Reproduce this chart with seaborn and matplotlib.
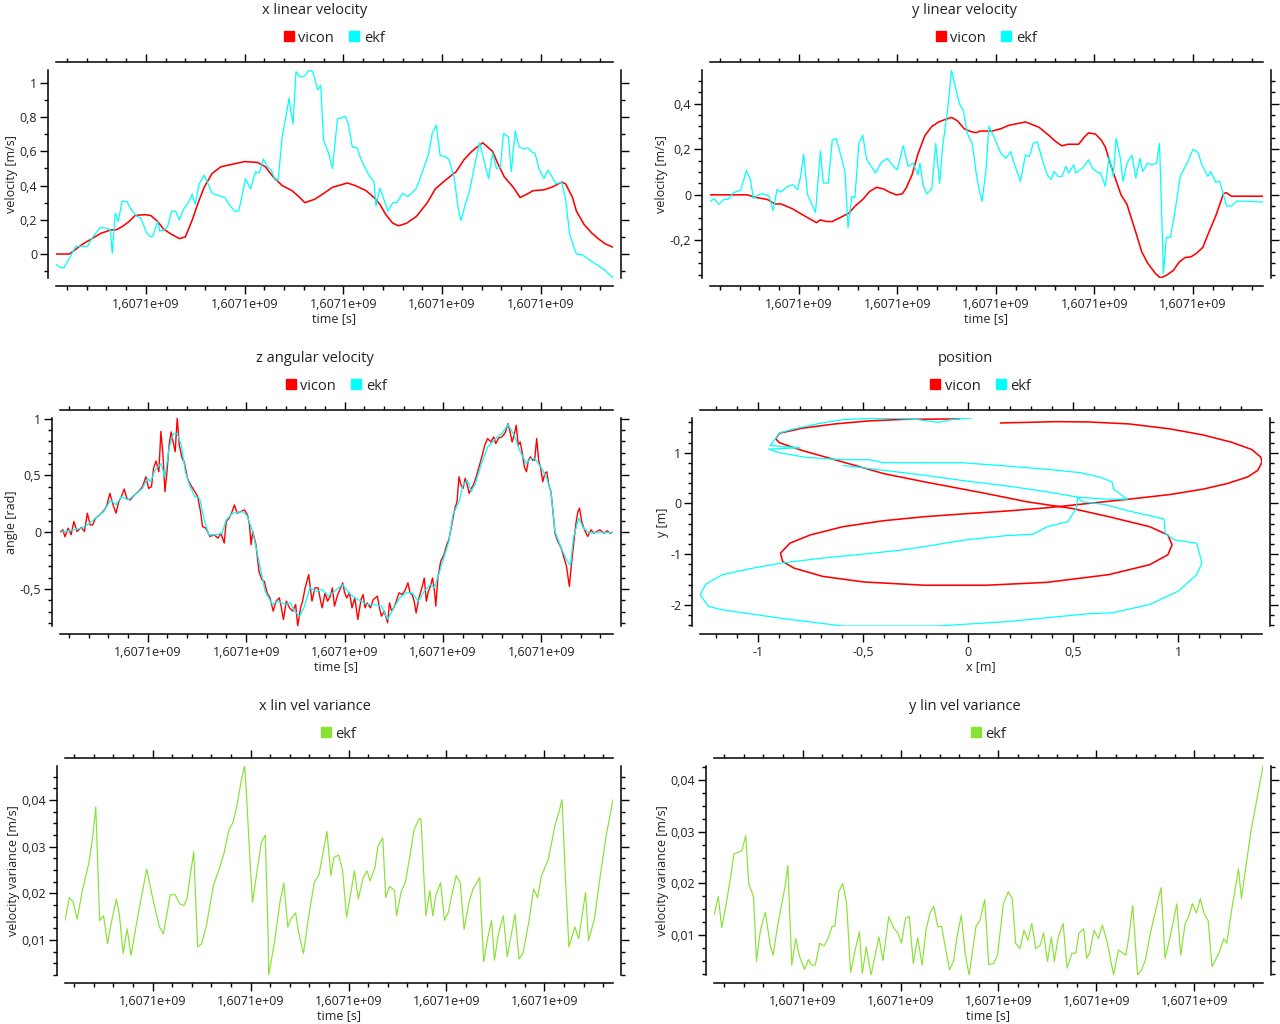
import numpy as np
import pandas as pd
import matplotlib
matplotlib.use("Agg")
import matplotlib.pyplot as plt
import seaborn as sns
from matplotlib.lines import Line2D
from matplotlib.ticker import MultipleLocator, FuncFormatter

T0 = 1607100000.0  # epoch start of the recording

RED = "#ff0000"
CYAN = "#00ffff"
GREEN = "#88e234"

# ---- x linear velocity (time offset [s], value [m/s]) ----
xvel_vicon_t = [0.9, 2.26, 3.5, 5.4, 6.4, 7.0, 7.6, 8.3, 8.9, 9.9, 10.5, 11.2, 11.8, 12.6, 13.4, 14.0, 14.7,
                15.3, 15.9, 16.7, 17.6, 18.8, 20.0, 21.3, 22.1, 22.9, 23.8, 24.8, 25.4, 26.1, 27.1, 27.9,
                28.9, 30.4, 31.2, 32.3, 33.1, 33.7, 34.3, 35.0, 35.6, 36.4, 37.4, 38.5, 39.3, 40.3, 41.4,
                42.2, 43.0, 44.1, 45.1, 45.7, 46.3, 47.2, 47.9, 48.6, 49.2, 50.3, 51.1, 52.1, 52.5, 53.2,
                53.6, 54.4, 55.2, 55.8, 56.5, 57.3]
xvel_vicon_v = [0.0, 0.0, 0.054, 0.12, 0.14, 0.142, 0.16, 0.19, 0.225, 0.23, 0.225, 0.19, 0.145, 0.115,
                0.09, 0.1, 0.2, 0.3, 0.39, 0.47, 0.51, 0.525, 0.54, 0.535, 0.51, 0.45, 0.4, 0.37, 0.34,
                0.3, 0.32, 0.35, 0.39, 0.415, 0.4, 0.37, 0.33, 0.29, 0.23, 0.18, 0.165, 0.18, 0.22, 0.3,
                0.38, 0.43, 0.48, 0.55, 0.6, 0.65, 0.6, 0.52, 0.45, 0.39, 0.33, 0.35, 0.37, 0.375, 0.39,
                0.42, 0.41, 0.33, 0.25, 0.17, 0.12, 0.09, 0.06, 0.04]
xvel_ekf_t = [0.9, 1.4, 1.7, 2.3, 2.9, 3.5, 4.1, 4.5, 5.4, 6.0, 6.4, 6.6, 6.9, 7.2, 7.6, 8.1, 8.5, 9.1,
              9.5, 10.1, 10.5, 10.7, 11.2, 11.4, 11.8, 12.2, 12.6, 13.0, 13.4, 13.8, 14.3, 14.7, 15.0,
              15.4, 15.9, 16.3, 16.7, 17.4, 18.0, 18.4, 19.0, 19.4, 20.1, 20.6, 21.1, 21.5, 21.9, 22.3,
              22.7, 23.1, 23.4, 23.8, 24.2, 24.5, 24.7, 24.9, 25.2, 25.6, 26.1, 26.5, 26.9, 27.4, 27.7,
              28.0, 28.5, 28.9, 29.4, 29.8, 30.2, 30.5, 30.9, 31.4, 31.8, 32.5, 33.1, 33.3, 33.7, 34.1,
              34.5, 35.0, 35.4, 36.0, 36.5, 37.0, 37.4, 38.0, 38.6, 39.0, 39.4, 39.8, 40.3, 40.7, 41.2,
              41.6, 41.9, 42.4, 42.8, 43.4, 43.8, 44.3, 44.7, 45.1, 45.5, 45.9, 46.2, 46.7, 47.0, 47.4,
              47.8, 48.2, 48.7, 49.1, 49.4, 49.8, 50.3, 50.7, 51.1, 51.5, 52.1, 52.5, 52.9, 53.3, 53.6,
              54.2, 54.8, 55.6, 56.5, 57.3]
xvel_ekf_v = [-0.06, -0.08, -0.08, -0.02, 0.045, 0.045, 0.045, 0.09, 0.155, 0.15, 0.14, 0.005, 0.24,
              0.19, 0.31, 0.305, 0.26, 0.22, 0.21, 0.12, 0.1, 0.105, 0.19, 0.135, 0.14, 0.16, 0.25, 0.25,
              0.2, 0.26, 0.3, 0.35, 0.29, 0.41, 0.46, 0.41, 0.355, 0.34, 0.33, 0.29, 0.25, 0.25, 0.44,
              0.38, 0.48, 0.475, 0.555, 0.51, 0.49, 0.43, 0.435, 0.685, 0.81, 0.91, 0.82, 0.76, 1.065,
              1.035, 1.04, 1.075, 1.065, 0.96, 0.985, 0.665, 0.59, 0.5, 0.79, 0.795, 0.805, 0.76, 0.625,
              0.62, 0.55, 0.47, 0.42, 0.28, 0.385, 0.32, 0.25, 0.3, 0.3, 0.355, 0.335, 0.36, 0.385, 0.48,
              0.58, 0.705, 0.753, 0.575, 0.57, 0.55, 0.45, 0.28, 0.195, 0.3, 0.375, 0.55, 0.65, 0.53,
              0.44, 0.59, 0.5, 0.505, 0.705, 0.685, 0.48, 0.72, 0.625, 0.615, 0.62, 0.595, 0.59, 0.5,
              0.44, 0.49, 0.455, 0.41, 0.42, 0.32, 0.12, 0.045, 0.0, -0.005, -0.03, -0.06, -0.095, -0.14]

# ---- y linear velocity ----
yvel_vicon_t = [1.0, 4.8, 5.5, 6.8, 7.6, 8.2, 9.3, 10.1, 10.9, 11.8, 12.2, 12.8, 13.4, 14.2, 15.1, 15.7,
                16.5, 17.2, 17.9, 18.6, 19.2, 19.9, 20.5, 20.9, 21.5, 22.1, 22.8, 23.5, 24.2, 24.8, 25.5,
                26.1, 26.8, 27.5, 28.0, 28.4, 29.6, 30.5, 31.3, 32.1, 33.0, 33.6, 34.4, 35.4, 36.1, 36.7,
                37.3, 38.4, 39.0, 39.4, 40.1, 40.7, 41.1, 41.7, 42.1, 42.7, 43.3, 44.2, 44.8, 45.4, 46.2,
                46.7, 47.3, 48.0, 48.6, 49.2, 49.8, 50.4, 51.0, 51.6, 52.3, 53.1, 53.4, 53.9, 54.8, 57.1]
yvel_vicon_v = [0.0, 0.0, -0.01, -0.02, -0.04, -0.04, -0.06, -0.08, -0.1, -0.122, -0.11, -0.117, -0.117,
                -0.1, -0.08, -0.05, -0.02, 0.015, 0.033, 0.026, 0.012, 0.0, 0.004, 0.03, 0.088, 0.18,
                0.26, 0.3, 0.32, 0.33, 0.34, 0.325, 0.29, 0.277, 0.273, 0.28, 0.28, 0.29, 0.305, 0.312,
                0.32, 0.31, 0.296, 0.26, 0.233, 0.215, 0.222, 0.222, 0.255, 0.272, 0.267, 0.24, 0.21,
                0.125, 0.074, 0.0, -0.042, -0.165, -0.25, -0.3, -0.346, -0.365, -0.353, -0.332, -0.295,
                -0.275, -0.272, -0.255, -0.23, -0.165, -0.093, 0.006, 0.009, -0.006, -0.006, -0.006]
yvel_ekf_t = [1.0, 1.4, 1.9, 2.4, 2.8, 3.4, 4.1, 4.7, 5.1, 5.4, 5.7, 6.3, 7.0, 7.4, 7.8, 8.2, 8.8, 9.4,
              9.9, 10.2, 10.5, 10.9, 11.7, 12.2, 12.5, 13.0, 13.4, 13.8, 14.3, 14.7, 15.0, 15.4, 15.7,
              16.1, 16.5, 16.9, 17.8, 18.4, 19.0, 19.6, 20.0, 20.6, 21.1, 21.6, 22.1, 22.3, 22.6, 23.0,
              23.5, 23.9, 24.3, 24.6, 25.1, 25.5, 25.9, 26.3, 26.7, 27.1, 27.6, 28.0, 28.3, 28.6, 29.0,
              29.3, 29.8, 30.5, 31.0, 31.5, 31.9, 32.5, 33.0, 33.4, 33.8, 34.2, 34.8, 35.2, 35.6, 35.9,
              36.3, 36.7, 37.1, 37.4, 37.9, 38.1, 38.8, 39.4, 39.8, 40.4, 40.6, 41.1, 41.5, 41.9, 42.2,
              42.6, 42.9, 43.3, 43.8, 44.2, 44.6, 44.9, 45.4, 45.8, 46.3, 46.6, 46.8, 47.0, 47.3, 47.7,
              48.1, 48.7, 49.4, 50.0, 50.5, 50.9, 51.5, 51.8, 52.3, 52.7, 53.0, 53.4, 53.9, 54.4, 55.4,
              57.1]
yvel_ekf_v = [-0.03, -0.017, -0.042, -0.02, -0.02, 0.01, 0.02, 0.107, 0.067, -0.016, -0.006, 0.006,
              -0.006, -0.068, 0.023, 0.012, 0.035, 0.045, 0.023, 0.084, 0.178, 0.001, -0.078, 0.193,
              0.052, 0.052, 0.24, 0.248, 0.168, 0.099, -0.143, -0.006, -0.013, 0.226, 0.262, 0.154,
              0.096, 0.143, 0.16, 0.125, 0.11, 0.216, 0.125, 0.139, 0.088, 0.14, 0.045, 0.004, 0.026,
              0.226, 0.05, 0.212, 0.371, 0.548, 0.472, 0.4, 0.371, 0.27, 0.226, 0.096, 0.023, -0.028,
              0.11, 0.3, 0.255, 0.183, 0.16, 0.19, 0.132, 0.059, 0.175, 0.168, 0.226, 0.233, 0.142,
              0.088, 0.067, 0.103, 0.081, 0.081, 0.125, 0.096, 0.132, 0.096, 0.117, 0.154, 0.117, 0.096,
              0.099, 0.038, 0.168, 0.081, 0.248, 0.168, 0.059, 0.139, 0.175, 0.074, 0.16, 0.103, 0.139,
              0.132, 0.139, 0.226, -0.05, -0.346, -0.187, -0.187, -0.093, 0.081, 0.139, 0.2, 0.186,
              0.132, 0.081, 0.103, 0.055, 0.06, 0.016, -0.049, -0.049, -0.028, -0.028, -0.032]

# ---- z angular velocity ----
zang_vicon_t = [1.07, 1.36, 1.57, 1.9, 2.2, 2.48, 2.8, 3.23, 3.56, 3.85, 4.14, 4.39, 4.68, 5.1, 5.5, 5.8,
                6.14, 6.47, 6.76, 7.05, 7.3, 7.6, 7.88, 8.2, 8.63, 9.04, 9.46, 9.8, 10.08, 10.37, 10.58,
                10.83, 11.12, 11.33, 11.54, 11.74, 11.95, 12.16, 12.37, 12.57, 12.78, 12.99, 13.2, 13.49,
                13.7, 14.03, 14.36, 14.78, 15.07, 15.36, 15.56, 15.9, 16.31, 16.73, 17.14, 17.43, 17.77,
                17.97, 18.26, 18.51, 18.8, 19.09, 19.43, 19.84, 20.13, 20.34, 20.5, 20.67, 21.0, 21.3,
                21.59, 21.84, 22.13, 22.42, 22.75, 23.04, 23.37, 23.58, 23.79, 24.08, 24.41, 24.74,
                25.03, 25.24, 25.53, 25.74, 25.99, 26.36, 26.69, 26.99, 27.32, 27.57, 27.73, 28.02,
                28.27, 28.56, 28.77, 28.98, 29.31, 29.6, 29.81, 30.02, 30.22, 30.51, 30.76, 31.05, 31.35,
                31.68, 31.89, 32.09, 32.3, 32.63, 32.92, 33.34, 33.55, 33.75, 34.04, 34.38, 34.58, 34.79,
                35.0, 35.21, 35.54, 35.83, 36.12, 36.45, 36.66, 36.87, 37.08, 37.28, 37.57, 37.91, 38.11,
                38.32, 38.53, 38.74, 38.95, 39.15, 39.28, 39.49, 39.78, 40.11, 40.4, 40.61, 40.9, 41.23,
                41.44, 41.64, 41.85, 42.06, 42.27, 42.48, 42.68, 42.89, 43.1, 43.39, 43.72, 44.01, 44.26,
                44.55, 44.88, 45.17, 45.38, 45.67, 46.0, 46.34, 46.63, 46.84, 47.04, 47.25, 47.46, 47.67,
                47.87, 48.08, 48.29, 48.5, 48.7, 48.91, 49.12, 49.33, 49.54, 49.74, 49.95, 50.16, 50.37,
                50.57, 50.78, 50.99, 51.2, 51.4, 51.69, 52.03, 52.32, 52.57, 52.86, 53.07, 53.36, 53.56,
                53.73, 53.9, 54.11, 54.4, 54.73, 55.06, 55.35, 55.64, 55.97, 56.39, 56.72, 57.01, 57.3]
zang_vicon_v = [0.0, 0.02, -0.04, 0.035, -0.023, 0.094, 0.006, 0.041, 0.006, 0.167, 0.064, 0.064, 0.123,
                0.152, 0.187, 0.225, 0.342, 0.24, 0.167, 0.269, 0.313, 0.38, 0.292, 0.284, 0.327, 0.357,
                0.4, 0.488, 0.386, 0.4, 0.561, 0.626, 0.532, 0.889, 0.678, 0.357, 0.532, 0.766, 0.883,
                0.795, 0.708, 1.006, 0.766, 0.649, 0.62, 0.474, 0.415, 0.357, 0.313, 0.181, 0.05, 0.035,
                -0.038, -0.023, -0.053, -0.009, -0.096, 0.094, 0.123, 0.167, 0.24, 0.167, 0.181, 0.196,
                0.152, 0.064, -0.111, 0.006, -0.111, -0.345, -0.418, -0.433, -0.535, -0.579, -0.696,
                -0.608, -0.579, -0.667, -0.769, -0.608, -0.667, -0.696, -0.637, -0.827, -0.667, -0.608,
                -0.491, -0.374, -0.608, -0.491, -0.491, -0.608, -0.667, -0.535, -0.608, -0.564, -0.491,
                -0.652, -0.55, -0.491, -0.447, -0.535, -0.579, -0.535, -0.667, -0.579, -0.769, -0.594,
                -0.55, -0.667, -0.623, -0.667, -0.594, -0.564, -0.667, -0.74, -0.696, -0.798, -0.623,
                -0.696, -0.667, -0.623, -0.535, -0.55, -0.52, -0.447, -0.535, -0.55, -0.608, -0.711,
                -0.579, -0.477, -0.404, -0.608, -0.52, -0.477, -0.404, -0.52, -0.652, -0.404, -0.257,
                -0.199, -0.111, -0.067, 0.064, 0.211, 0.269, 0.488, 0.415, 0.386, 0.474, 0.415, 0.342,
                0.386, 0.415, 0.488, 0.591, 0.678, 0.766, 0.825, 0.795, 0.839, 0.781, 0.83, 0.839, 0.877,
                0.956, 0.883, 0.795, 0.854, 0.942, 0.766, 0.795, 0.693, 0.576, 0.532, 0.635, 0.664, 0.635,
                0.635, 0.825, 0.635, 0.561, 0.444, 0.518, 0.532, 0.415, 0.357, 0.181, -0.009, -0.082,
                -0.14, -0.228, -0.301, -0.477, -0.287, -0.053, 0.094, 0.181, 0.211, 0.094, 0.02, -0.038,
                0.02, -0.009, 0.006, 0.02, -0.009, 0.012, -0.009, 0.0]
zang_ekf_t = [1.07, 1.99, 3.23, 3.85, 4.68, 5.51, 6.22, 6.76, 7.3, 8.01, 8.63, 9.46, 9.96, 10.29, 10.71,
              11.33, 11.74, 12.16, 12.57, 12.99, 13.41, 13.82, 14.24, 14.78, 15.27, 15.69, 16.19, 16.94,
              17.56, 17.97, 18.6, 19.63, 20.05, 20.67, 21.3, 21.92, 22.67, 23.16, 24.0, 24.49, 24.91,
              25.45, 25.86, 26.49, 27.11, 27.73, 28.36, 28.98, 29.81, 30.43, 31.05, 31.68, 32.3, 32.92,
              33.75, 34.38, 35.0, 35.62, 36.25, 36.87, 37.49, 38.11, 38.74, 39.15, 39.57, 40.19, 40.61,
              41.02, 41.64, 42.06, 42.48, 42.89, 43.31, 43.93, 44.55, 45.38, 46.0, 46.63, 47.25, 47.87,
              48.5, 48.91, 49.33, 49.95, 50.57, 50.99, 51.4, 52.03, 52.65, 52.98, 53.27, 53.81, 54.31,
              54.93, 55.76, 57.3]
zang_ekf_v = [0.0, 0.012, 0.035, 0.064, 0.123, 0.181, 0.284, 0.24, 0.313, 0.284, 0.327, 0.386, 0.474,
              0.444, 0.547, 0.605, 0.488, 0.737, 0.868, 0.868, 0.766, 0.532, 0.415, 0.313, 0.298, 0.123,
              -0.023, -0.023, -0.009, 0.108, 0.167, 0.181, 0.152, 0.006, -0.257, -0.52, -0.637, -0.608,
              -0.637, -0.623, -0.696, -0.74, -0.667, -0.491, -0.52, -0.506, -0.564, -0.52, -0.462,
              -0.535, -0.579, -0.608, -0.637, -0.637, -0.652, -0.769, -0.667, -0.579, -0.535, -0.535,
              -0.608, -0.52, -0.462, -0.491, -0.374, -0.199, -0.082, 0.152, 0.269, 0.415, 0.459, 0.357,
              0.43, 0.605, 0.751, 0.825, 0.868, 0.947, 0.854, 0.708, 0.605, 0.649, 0.649, 0.576, 0.474,
              0.357, 0.006, -0.14, -0.257, -0.292, -0.053, 0.123, 0.035, -0.009, 0.0, -0.003]

# ---- position [m] ----
pos_vicon_x = [0.154, 0.28, 0.416, 0.572, 0.767, 0.961, 1.117, 1.253, 1.35, 1.393, 1.399, 1.379, 1.331,
               1.233, 1.117, 0.961, 0.767, 0.572, 0.377, 0.183, -0.012, -0.206, -0.401, -0.595, -0.751,
               -0.848, -0.893, -0.883, -0.829, -0.693, -0.498, -0.206, 0.086, 0.377, 0.669, 0.864, 0.951,
               0.971, 0.951, 0.864, 0.669, 0.494, 0.28, 0.086, -0.206, -0.401, -0.595, -0.79, -0.897,
               -0.916, -0.897, -0.79, -0.634, -0.479, -0.304, -0.041]
pos_vicon_y = [1.588, 1.6, 1.614, 1.608, 1.569, 1.471, 1.353, 1.209, 1.065, 0.915, 0.817, 0.654, 0.523,
               0.392, 0.281, 0.176, 0.085, 0.0, -0.085, -0.15, -0.203, -0.261, -0.34, -0.458, -0.621,
               -0.784, -0.98, -1.144, -1.275, -1.438, -1.549, -1.614, -1.614, -1.556, -1.405, -1.209,
               -1.013, -0.817, -0.621, -0.458, -0.261, -0.098, 0.033, 0.196, 0.425, 0.588, 0.817, 1.046,
               1.196, 1.275, 1.386, 1.484, 1.569, 1.627, 1.66, 1.667]
pos_ekf_x = [0.018, -0.031, -0.089, -0.138, -0.196, -0.245, -0.352, -0.479, -0.595, -0.712, -0.829,
             -0.897, -0.92, -0.942, -0.868, -0.8, -0.949, -0.897, -0.77, -0.595, -0.469, -0.401, -0.031,
             0.183, 0.377, 0.533, 0.63, 0.685, 0.693, 0.757, 0.65, 0.523, 0.543, 0.65, 0.767, 0.933,
             0.938, 0.981, 1.088, 1.113, 1.088, 1.0, 0.864, 0.689, 0.572, 0.183, -0.148, -0.595, -0.887,
             -1.179, -1.237, -1.276, -1.247, -1.169, -1.023, -0.887, -0.693, -0.498, -0.381, -0.323,
             -0.206, -0.012, 0.183, 0.309, 0.377, 0.475, 0.514, 0.523, 0.377, 0.183, -0.012, -0.206,
             -0.401, -0.595]
pos_ekf_y = [1.686, 1.673, 1.647, 1.601, 1.627, 1.66, 1.68, 1.673, 1.654, 1.575, 1.471, 1.392, 1.261,
             1.144, 1.118, 1.098, 1.072, 1.0, 0.908, 0.863, 0.863, 0.804, 0.804, 0.739, 0.673, 0.608,
             0.516, 0.425, 0.281, 0.085, 0.085, 0.124, 0.033, -0.02, -0.15, -0.307, -0.588, -0.719,
             -0.784, -1.176, -1.405, -1.732, -1.993, -2.157, -2.176, -2.333, -2.418, -2.418, -2.268,
             -2.092, -2.026, -1.797, -1.588, -1.405, -1.275, -1.176, -1.078, -1.0, -0.948, -0.922,
             -0.85, -0.719, -0.634, -0.608, -0.458, -0.359, -0.098, 0.124, 0.229, 0.346, 0.444, 0.556,
             0.654, 0.75]

# ---- x / y linear velocity variance ----
xvar_t = [1.06, 1.5, 1.9, 2.3, 2.8, 3.5, 3.9, 4.2, 4.4, 4.6, 5.0, 5.4, 5.8, 6.3, 6.6, 7.0, 7.4, 7.8, 8.5,
          9.4, 10.1, 10.7, 11.1, 11.8, 12.3, 12.8, 13.2, 13.5, 14.2, 14.6, 15.0, 15.5, 16.2, 16.8, 17.3,
          17.8, 18.2, 18.6, 19.1, 19.4, 19.6, 19.9, 20.2, 20.6, 21.1, 21.5, 21.8, 21.85, 22.4, 23.0, 23.4,
          23.8, 24.1, 24.6, 24.9, 25.4, 25.9, 26.5, 27.0, 27.8, 28.2, 28.5, 29.0, 29.4, 29.8, 30.3, 30.6,
          31.0, 31.5, 31.9, 32.2, 32.7, 33.0, 33.5, 33.8, 34.2, 34.7, 34.9, 35.4, 35.8, 36.3, 36.7, 37.2,
          37.4, 37.9, 38.3, 38.6, 38.9, 39.4, 39.8, 40.2, 40.6, 41.0, 41.4, 41.8, 42.3, 42.7, 43.4, 43.5,
          43.8, 44.2, 44.6, 44.9, 45.3, 45.8, 46.2, 46.6, 47.0, 47.4, 47.8, 48.4, 48.9, 49.3, 49.7, 50.4,
          51.1, 51.5, 51.8, 52.1, 52.5, 53.1, 53.5, 53.8, 54.2, 54.5, 55.1, 55.7, 56.3, 57.0]
xvar_v = [0.0142, 0.0191, 0.0181, 0.0145, 0.0202, 0.0266, 0.0323, 0.0385, 0.0266, 0.0142, 0.0152, 0.0092,
          0.0138, 0.0188, 0.0156, 0.0071, 0.0124, 0.0067, 0.0152, 0.0252, 0.0181, 0.0128, 0.0113, 0.0197,
          0.0197, 0.0177, 0.0174, 0.0188, 0.0289, 0.0085, 0.0092, 0.0131, 0.0216, 0.0252, 0.0287, 0.0337,
          0.0351, 0.0387, 0.0447, 0.0473, 0.0408, 0.0287, 0.0181, 0.0238, 0.0309, 0.0325, 0.0106, 0.0025,
          0.0089, 0.0181, 0.0222, 0.0128, 0.0145, 0.0158, 0.0117, 0.0071, 0.0145, 0.0223, 0.0241, 0.0333,
          0.0238, 0.0277, 0.0282, 0.0248, 0.0149, 0.0209, 0.0248, 0.0188, 0.0234, 0.0248, 0.0227, 0.0255,
          0.0301, 0.0319, 0.0191, 0.0215, 0.0206, 0.0152, 0.0206, 0.0223, 0.0284, 0.0337, 0.036, 0.036,
          0.0152, 0.0206, 0.0152, 0.0195, 0.0223, 0.0142, 0.016, 0.0202, 0.0238, 0.0223, 0.0123, 0.0181,
          0.0209, 0.0234, 0.0175, 0.0053, 0.0103, 0.0142, 0.0057, 0.0113, 0.0152, 0.0064, 0.011, 0.0156,
          0.0059, 0.0071, 0.0138, 0.0209, 0.0191, 0.0238, 0.0273, 0.0348, 0.0376, 0.0401, 0.0252, 0.0085,
          0.0128, 0.0103, 0.0145, 0.0202, 0.0099, 0.0145, 0.0238, 0.0323, 0.0401]
yvar_t = [0.96, 1.4, 1.75, 2.1, 2.6, 3.0, 3.4, 3.8, 4.2, 4.5, 5.0, 5.3, 5.7, 6.2, 6.7, 7.0, 7.4, 7.9, 8.2,
          8.5, 8.9, 9.3, 9.7, 10.2, 10.6, 10.9, 11.3, 11.75, 12.2, 12.6, 13.0, 13.3, 13.7, 14.1, 14.5,
          14.9, 15.4, 15.8, 16.1, 16.5, 17.0, 17.4, 17.8, 18.2, 18.8, 19.3, 19.75, 20.1, 20.5, 20.9, 21.3,
          21.75, 22.2, 22.6, 23.0, 23.4, 23.8, 24.2, 24.5, 25.0, 25.4, 25.8, 26.2, 26.6, 27.0, 27.7, 28.1,
          28.6, 29.0, 29.5, 29.9, 30.5, 31.0, 31.4, 31.75, 32.2, 32.6, 33.0, 33.4, 33.8, 34.25, 34.6, 35.0,
          35.4, 35.7, 36.1, 36.6, 37.0, 37.5, 37.9, 38.2, 38.7, 39.0, 39.3, 39.75, 40.2, 40.6, 41.05,
          41.75, 42.25, 43.0, 43.3, 43.7, 44.2, 44.6, 45.0, 45.5, 46.0, 46.6, 47.0, 47.6, 48.2, 48.6,
          49.05, 49.4, 49.8, 50.2, 50.6, 51.0, 51.4, 51.8, 52.5, 53.0, 53.3, 53.8, 54.5, 54.8, 55.1, 55.75,
          57.0]
yvar_v = [0.0139, 0.0175, 0.0115, 0.0149, 0.0206, 0.0257, 0.026, 0.0263, 0.0292, 0.02, 0.0174, 0.005,
          0.011, 0.0145, 0.0081, 0.0062, 0.0113, 0.0164, 0.0193, 0.0235, 0.0043, 0.0094, 0.0059, 0.0035,
          0.0054, 0.0043, 0.0043, 0.0085, 0.008, 0.0094, 0.0117, 0.0118, 0.0184, 0.02, 0.0161, 0.0029,
          0.0075, 0.0107, 0.0027, 0.0078, 0.0024, 0.0062, 0.0097, 0.0052, 0.0136, 0.0115, 0.0104, 0.0085,
          0.0133, 0.0136, 0.0046, 0.0096, 0.0043, 0.011, 0.0143, 0.0156, 0.0117, 0.0117, 0.0085, 0.0034,
          0.005, 0.0101, 0.0139, 0.0066, 0.0024, 0.0117, 0.0129, 0.0169, 0.0044, 0.0046, 0.0062, 0.0161,
          0.0184, 0.0171, 0.0085, 0.0075, 0.011, 0.0091, 0.0123, 0.0075, 0.0081, 0.0105, 0.005, 0.0097,
          0.005, 0.0097, 0.0123, 0.0037, 0.0066, 0.0066, 0.0104, 0.0113, 0.0056, 0.0066, 0.011, 0.0094,
          0.012, 0.0091, 0.0024, 0.0072, 0.0062, 0.0097, 0.0158, 0.0024, 0.0034, 0.0053, 0.0104, 0.0145,
          0.0192, 0.0056, 0.0104, 0.0161, 0.0062, 0.0123, 0.0136, 0.0161, 0.0143, 0.0171, 0.0141, 0.0129,
          0.004, 0.0066, 0.0094, 0.0085, 0.0149, 0.0228, 0.0171, 0.0212, 0.0298, 0.0426]

W, H = 1280, 1024


def comma_fmt(v, pos):
    return ("%g" % (round(v, 6) + 0.0)).replace(".", ",")


def time_fmt(v, pos):
    return ("%.4e" % v).replace(".", ",")


def add_panel(fig, box, title, title_x, ylabel, xlabel, ymaj, ymin, xmaj=10, xmin=2, time_axis=True):
    l, t, r, b = box
    ax = fig.add_axes([l / W, 1 - b / H, (r - l) / W, (b - t) / H])
    ax.set_facecolor("white")
    sns.despine(ax=ax, top=False, right=False, offset=5.5)
    for s in ax.spines.values():
        s.set_linewidth(1.1)
        s.set_color("black")
    ax.tick_params(which="both", direction="out", top=True, right=True,
                   labeltop=False, labelright=False, colors="black", labelcolor="#222222",
                   labelsize=9, width=1.0, pad=2.5)
    ax.tick_params(axis="x", which="major", pad=3.5)
    ax.tick_params(which="major", length=5.5)
    ax.tick_params(which="minor", length=3)
    ax.yaxis.set_major_locator(MultipleLocator(ymaj))
    ax.yaxis.set_minor_locator(MultipleLocator(ymin))
    ax.yaxis.set_major_formatter(FuncFormatter(comma_fmt))
    ax.xaxis.set_major_locator(MultipleLocator(xmaj))
    ax.xaxis.set_minor_locator(MultipleLocator(xmin))
    ax.xaxis.set_major_formatter(FuncFormatter(time_fmt if time_axis else comma_fmt))
    ax.set_xlabel(xlabel, fontsize=9, labelpad=0.8, color="#222222")
    ax.set_ylabel(ylabel, fontsize=9, labelpad=1, color="#222222")
    fig.text(title_x / W, 1 - (t - 60) / H, title, ha="center", va="center",
             fontsize=10.5, color="#222222")
    ax.grid(False)
    ax.margins(0)
    return ax


def add_legend(ax, fig, box, entries):
    l, t, r, b = box
    handles = [Line2D([], [], marker="s", linestyle="", color=c, markersize=6.5, label=n)
               for n, c in entries]
    ax.legend(handles=handles, loc="center", bbox_to_anchor=((l + r) / 2 / W, 1 - (t - 32) / H),
              bbox_transform=fig.transFigure, ncol=len(handles), frameon=False,
              handletextpad=0.35, columnspacing=1.1, handlelength=0.6, fontsize=10.5,
              labelcolor="#222222", borderpad=0.1)


sns.set_theme(style="ticks")
plt.rcParams["font.family"] = ["Open Sans", "DejaVu Sans"]
plt.rcParams["axes.unicode_minus"] = False

fig = plt.figure(figsize=(W / 100, H / 100), dpi=100)

boxes = {
    "xv": (56, 70, 613, 278),
    "yv": (710, 70, 1263, 278),
    "za": (60, 418, 613, 626),
    "pos": (700, 418, 1262, 626),
    "xvar": (65, 766, 613, 975),
    "yvar": (714, 766, 1263, 975),
}
lw_red, lw_cyan, lw_green = 1.15, 0.9, 0.85

# x linear velocity
ax = add_panel(fig, boxes["xv"], "x linear velocity", 315, "velocity [m/s]", "time [s]", 0.2, 0.1)
sns.lineplot(x=T0 + np.array(xvel_vicon_t), y=xvel_vicon_v, ax=ax, color=RED, lw=lw_red,
             estimator=None, sort=False)
sns.lineplot(x=T0 + np.array(xvel_ekf_t), y=xvel_ekf_v, ax=ax, color=CYAN, lw=lw_cyan,
             estimator=None, sort=False)
ax.margins(0)
add_legend(ax, fig, boxes["xv"], [("vicon", RED), ("ekf", CYAN)])

# y linear velocity
ax = add_panel(fig, boxes["yv"], "y linear velocity", 965, "velocity [m/s]", "time [s]", 0.2, 0.05)
sns.lineplot(x=T0 + np.array(yvel_vicon_t), y=yvel_vicon_v, ax=ax, color=RED, lw=lw_red,
             estimator=None, sort=False)
sns.lineplot(x=T0 + np.array(yvel_ekf_t), y=yvel_ekf_v, ax=ax, color=CYAN, lw=lw_cyan,
             estimator=None, sort=False)
ax.margins(0)
add_legend(ax, fig, boxes["yv"], [("vicon", RED), ("ekf", CYAN)])

# z angular velocity
ax = add_panel(fig, boxes["za"], "z angular velocity", 315, "angle [rad]", "time [s]", 0.5, 0.1)
sns.lineplot(x=T0 + np.array(zang_vicon_t), y=zang_vicon_v, ax=ax, color=RED, lw=1.0,
             estimator=None, sort=False)
sns.lineplot(x=T0 + np.array(zang_ekf_t), y=zang_ekf_v, ax=ax, color=CYAN, lw=lw_cyan,
             estimator=None, sort=False)
ax.margins(0)
add_legend(ax, fig, boxes["za"], [("vicon", RED), ("ekf", CYAN)])

# position
ax = add_panel(fig, boxes["pos"], "position", 965, "y [m]", "x [m]", 1, 0.2, xmaj=0.5, xmin=0.1,
               time_axis=False)
sns.lineplot(x=pos_vicon_x, y=pos_vicon_y, ax=ax, color=RED, lw=lw_red, estimator=None, sort=False)
sns.lineplot(x=pos_ekf_x, y=pos_ekf_y, ax=ax, color=CYAN, lw=lw_cyan, estimator=None, sort=False)
ax.margins(0)
add_legend(ax, fig, boxes["pos"], [("vicon", RED), ("ekf", CYAN)])

# variances
ax = add_panel(fig, boxes["xvar"], "x lin vel variance", 315, "velocity variance [m/s]", "time [s]",
               0.01, 0.0025)
sns.lineplot(x=T0 + np.array(xvar_t), y=xvar_v, ax=ax, color=GREEN, lw=lw_green, estimator=None, sort=False)
ax.margins(0)
add_legend(ax, fig, boxes["xvar"], [("ekf", GREEN)])

ax = add_panel(fig, boxes["yvar"], "y lin vel variance", 965, "velocity variance [m/s]", "time [s]",
               0.01, 0.0025)
sns.lineplot(x=T0 + np.array(yvar_t), y=yvar_v, ax=ax, color=GREEN, lw=lw_green, estimator=None, sort=False)
ax.margins(0)
add_legend(ax, fig, boxes["yvar"], [("ekf", GREEN)])

fig.savefig("out.png", dpi=100, facecolor="white")
